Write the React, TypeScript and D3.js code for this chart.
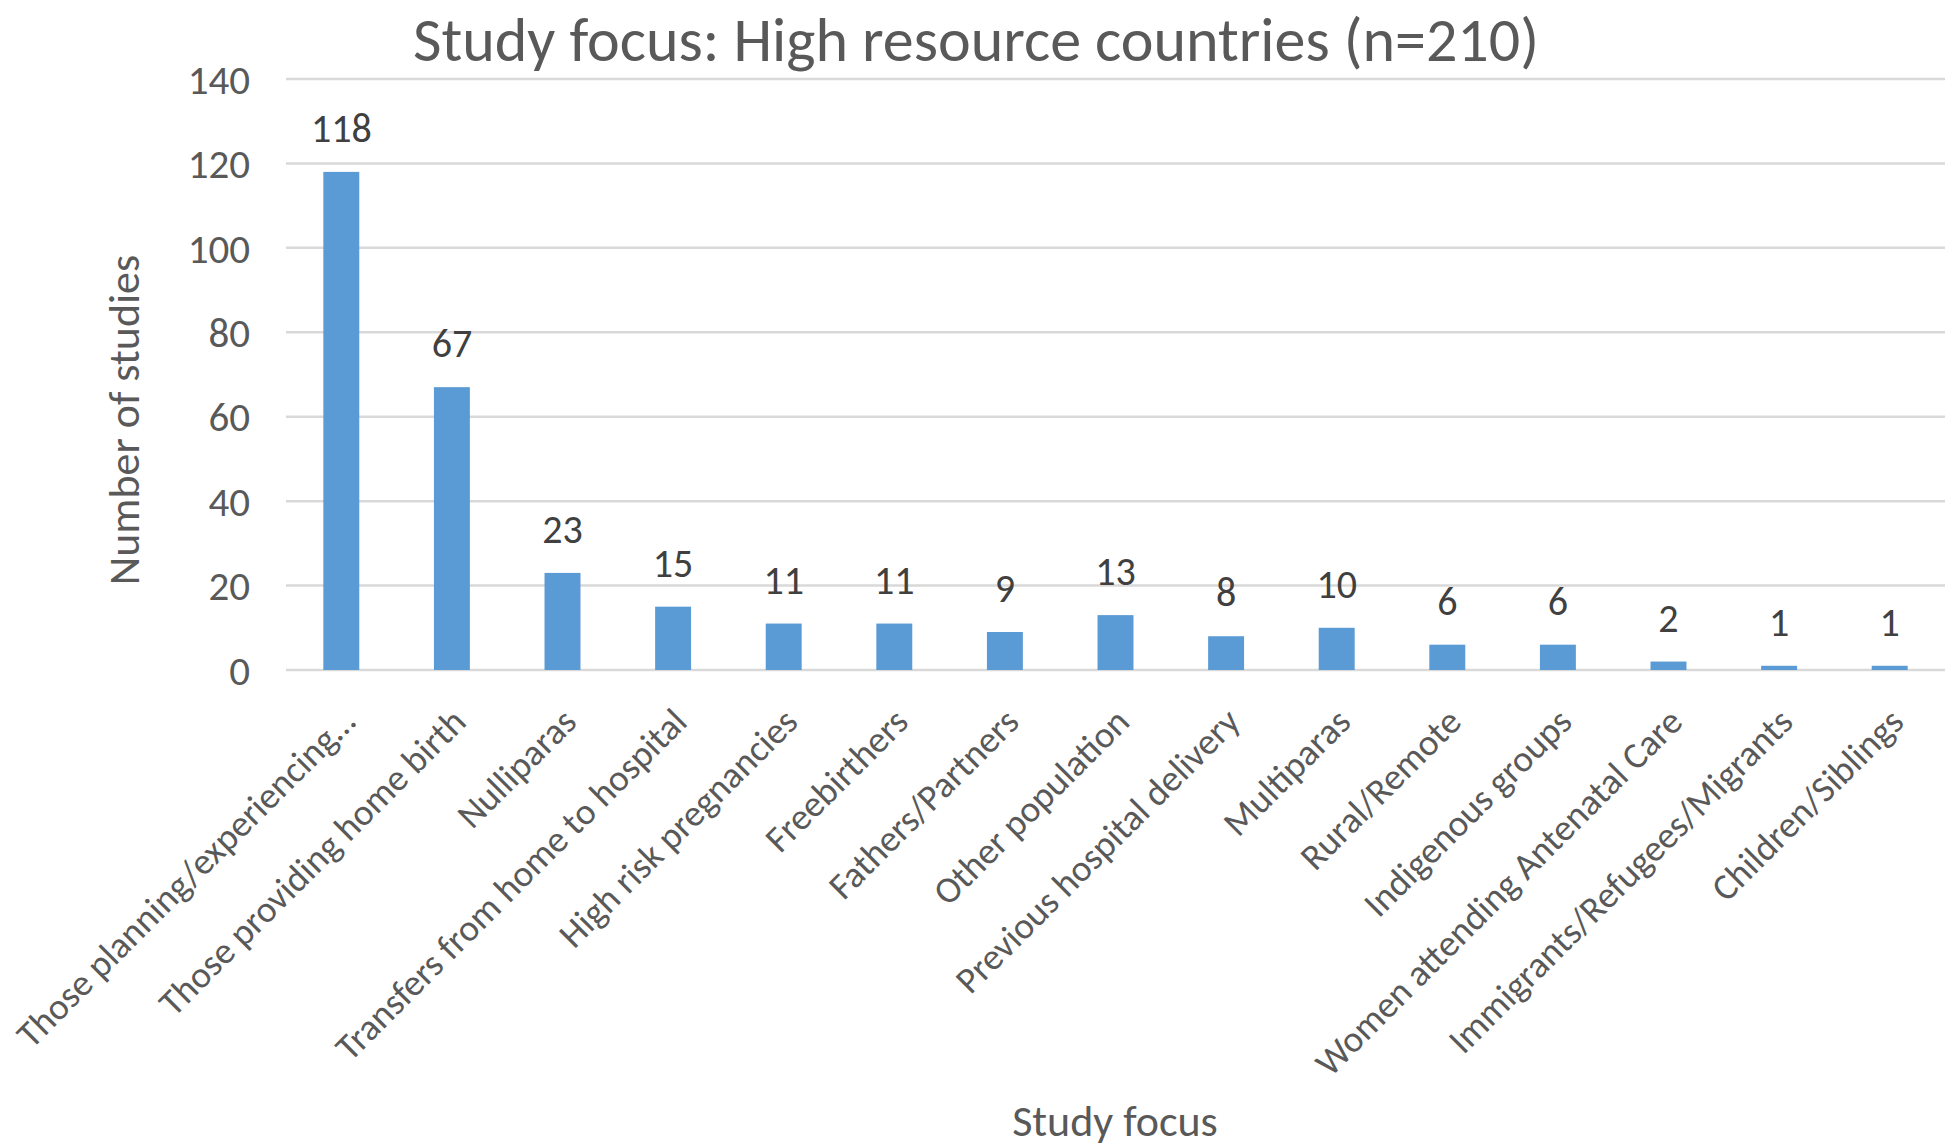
import React, { useEffect, useRef } from 'react';
import * as d3 from 'd3';

const categories = [
  'Those planning/experiencing…',
  'Those providing home birth',
  'Nulliparas',
  'Transfers from home to hospital',
  'High risk pregnancies',
  'Freebirthers',
  'Fathers/Partners',
  'Other population',
  'Previous hospital delivery',
  'Multiparas',
  'Rural/Remote',
  'Indigenous groups',
  'Women attending Antenatal Care',
  'Immigrants/Refugees/Migrants',
  'Children/Siblings',
];
const studies = [118, 67, 23, 15, 11, 11, 9, 13, 8, 10, 6, 6, 2, 1, 1];
const yTicks = [0, 20, 40, 60, 80, 100, 120, 140];

const title = 'Study focus: High resource countries (n=210)';
const xTitle = 'Study focus';
const yTitle = 'Number of studies';

const FONT = "Carlito, Calibri, Lato, 'Open Sans', sans-serif";

const App = () => {
  const ref = useRef<SVGSVGElement | null>(null);

  useEffect(() => {
    if (!ref.current) return;
    const width = 1952, height = 1148;
    const left = 286, right = 1945, top = 79, bottom = 670;

    const svg = d3.select(ref.current);
    svg.selectAll('*').remove();
    svg.attr('width', width).attr('height', height).style('font-family', FONT);

    svg.append('rect').attr('width', width).attr('height', height).attr('fill', '#ffffff');

    const x = d3.scaleBand<string>()
      .domain(categories)
      .range([left, right])
      .paddingInner(0.675)
      .paddingOuter(0.3375);

    const y = d3.scaleLinear().domain([0, 140]).range([bottom, top]);

    // gridlines
    svg.append('g')
      .selectAll('line')
      .data(yTicks)
      .enter()
      .append('line')
      .attr('x1', left)
      .attr('x2', right)
      .attr('y1', d => y(d))
      .attr('y2', d => y(d))
      .attr('stroke', '#d9d9d9')
      .attr('stroke-width', 2.5);

    // y tick labels
    svg.append('g')
      .selectAll('text')
      .data(yTicks)
      .enter()
      .append('text')
      .attr('x', 250)
      .attr('y', d => y(d))
      .attr('dy', '0.36em')
      .attr('text-anchor', 'end')
      .attr('fill', '#595959')
      .style('font-size', '41px')
      .text(d => d);

    const data = categories.map((c, i) => ({ c, v: studies[i] }));

    // bars
    svg.append('g')
      .selectAll('rect')
      .data(data)
      .enter()
      .append('rect')
      .attr('x', d => x(d.c) as number)
      .attr('width', x.bandwidth())
      .attr('y', d => y(d.v))
      .attr('height', d => bottom - y(d.v))
      .attr('fill', '#5b9bd5');

    // data labels
    svg.append('g')
      .selectAll('text')
      .data(data)
      .enter()
      .append('text')
      .attr('x', d => (x(d.c) as number) + x.bandwidth() / 2)
      .attr('y', d => y(d.v) - 30)
      .attr('text-anchor', 'middle')
      .attr('fill', '#404040')
      .style('font-size', '40px')
      .text(d => d.v);

    // category labels
    svg.append('g')
      .selectAll('text')
      .data(categories)
      .enter()
      .append('text')
      .attr('transform', d => {
        const cx = (x(d) as number) + x.bandwidth() / 2;
        return `translate(${cx + 16}, 724) rotate(-45)`;
      })
      .attr('text-anchor', 'end')
      .attr('fill', '#595959')
      .style('font-size', '37px')
      .text(d => d);

    // titles
    svg.append('text')
      .attr('x', 976)
      .attr('y', 61)
      .attr('text-anchor', 'middle')
      .attr('fill', '#595959')
      .style('font-size', '62px')
      .text(title);

    svg.append('text')
      .attr('x', 1115)
      .attr('y', 1136)
      .attr('text-anchor', 'middle')
      .attr('fill', '#595959')
      .style('font-size', '44px')
      .text(xTitle);

    svg.append('text')
      .attr('transform', 'translate(139, 420) rotate(-90)')
      .attr('text-anchor', 'middle')
      .attr('fill', '#595959')
      .style('font-size', '44px')
      .text(yTitle);
  }, []);

  return (
    <div style={{ position: 'absolute', left: 0, top: 0 }}>
      <svg ref={ref} style={{ display: 'block' }} />
    </div>
  );
};

export default App;
